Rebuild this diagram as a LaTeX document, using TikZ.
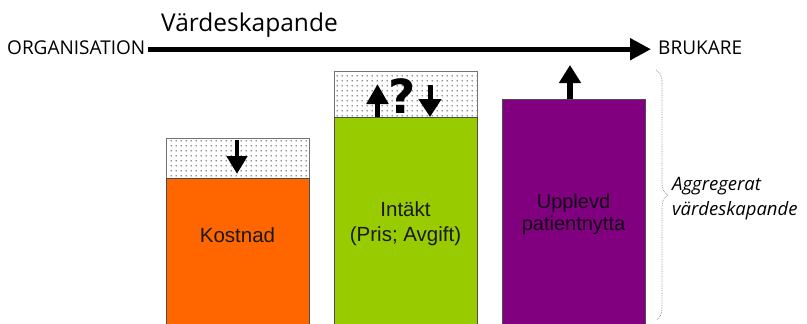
\documentclass[tikz,border=0pt]{standalone}
\usepackage{fontspec}
\setmainfont{Liberation Sans}
\newfontfamily\osans{Open Sans}
\newfontfamily\qfont{DejaVu Sans}
\usetikzlibrary{patterns,arrows.meta,decorations.pathreplacing,calc}
\definecolor{korange}{HTML}{FF6600}
\definecolor{kgreen}{HTML}{99CC00}
\definecolor{kpurple}{HTML}{800080}
\pgfdeclarepatternformonly{sdots}{\pgfpointorigin}{\pgfqpoint{4.6pt}{4.6pt}}{\pgfqpoint{4.6pt}{4.6pt}}{\pgfpathcircle{\pgfqpoint{1.2pt}{1.2pt}}{0.7pt}\pgfusepath{fill}}
\tikzset{
  bar/.style={draw=black!70, line width=0.8pt},
  dotbox/.style={draw=black!55, line width=0.8pt, pattern=sdots, pattern color=black!85},
  lbl/.style={font=\fontsize{20.5}{25}\selectfont, text=black!90, align=center, inner sep=0pt},
  toptxt/.style={font=\osans\fontsize{19}{22}\selectfont, inner sep=0pt},
}
\begin{document}
\begin{tikzpicture}[x=1pt,y=-1pt]
\useasboundingbox[fill=white] (0,0) rectangle (807,324);

% top labels
\node[toptxt, anchor=base west] (org) at (7,54) {ORGANISATION};
\node[toptxt, anchor=base west] (bru) at (658,54) {BRUKARE};
\node[font=\osans\fontsize{24.5}{26}\selectfont, inner sep=0pt, anchor=base west] (vard) at (161,31) {Värdeskapande};
\draw[line width=5pt, -{Triangle[width=21pt,length=21pt]}]
  ($(org.east)+(3,2)$) -- ($(bru.west |- org.east)+(-7,2)$);

% Kostnad
\draw[dotbox] (166,138) rectangle (309,178);
\draw[bar, fill=korange] (166,178) rectangle (309,340);
\node[lbl] (kost) at (237.5,235) {Kostnad};
\coordinate (k1) at (237,140);
\coordinate (k2) at (237,174);
\draw[line width=4.5pt, -{Triangle[width=20pt,length=18pt]}] (k1) -- (k2);

% Intakt
\draw[dotbox] (334,71) rectangle (477,117);
\draw[bar, fill=kgreen] (334,117) rectangle (477,340);
\node[lbl] (int) at (405.5,224) {Intäkt\\(Pris; Avgift)};
\coordinate (g1) at (377.5,117);
\coordinate (g2) at (377.5,84);
\draw[line width=5pt, -{Triangle[width=21pt,length=20pt]}] (g1) -- (g2);
\coordinate (g3) at (430,85);
\coordinate (g4) at (430,117);
\draw[line width=5pt, -{Triangle[width=22pt,length=18pt]}] (g3) -- (g4);
\node[font=\qfont\bfseries\fontsize{47}{50}\selectfont, inner sep=0pt, anchor=base] (q) at (402,113) {?};

% Upplevd
\draw[bar, fill=kpurple] (502,99) rectangle (645,340);
\node[lbl, font=\fontsize{20}{22}\selectfont, text=black!85!kpurple] (upp) at (573.5,214) {Upplevd\\patientnytta};
\coordinate (p1) at (570,99);
\coordinate (p2) at (570,65);
\draw[line width=6pt, -{Triangle[width=21pt,length=18pt]}] (p1) -- (p2);

% brace
\coordinate (b1) at (656,70);
\coordinate (b2) at (656,320);
\draw[black!45, densely dotted, line width=0.7pt, decorate, decoration={brace, amplitude=12pt}] (b1) -- (b2);
\node[font=\osans\itshape\fontsize{18.5}{25}\selectfont, align=left, inner sep=0pt, anchor=west] (agg) at (672,199) {Aggregerat\\värdeskapande};
\end{tikzpicture}
\end{document}
